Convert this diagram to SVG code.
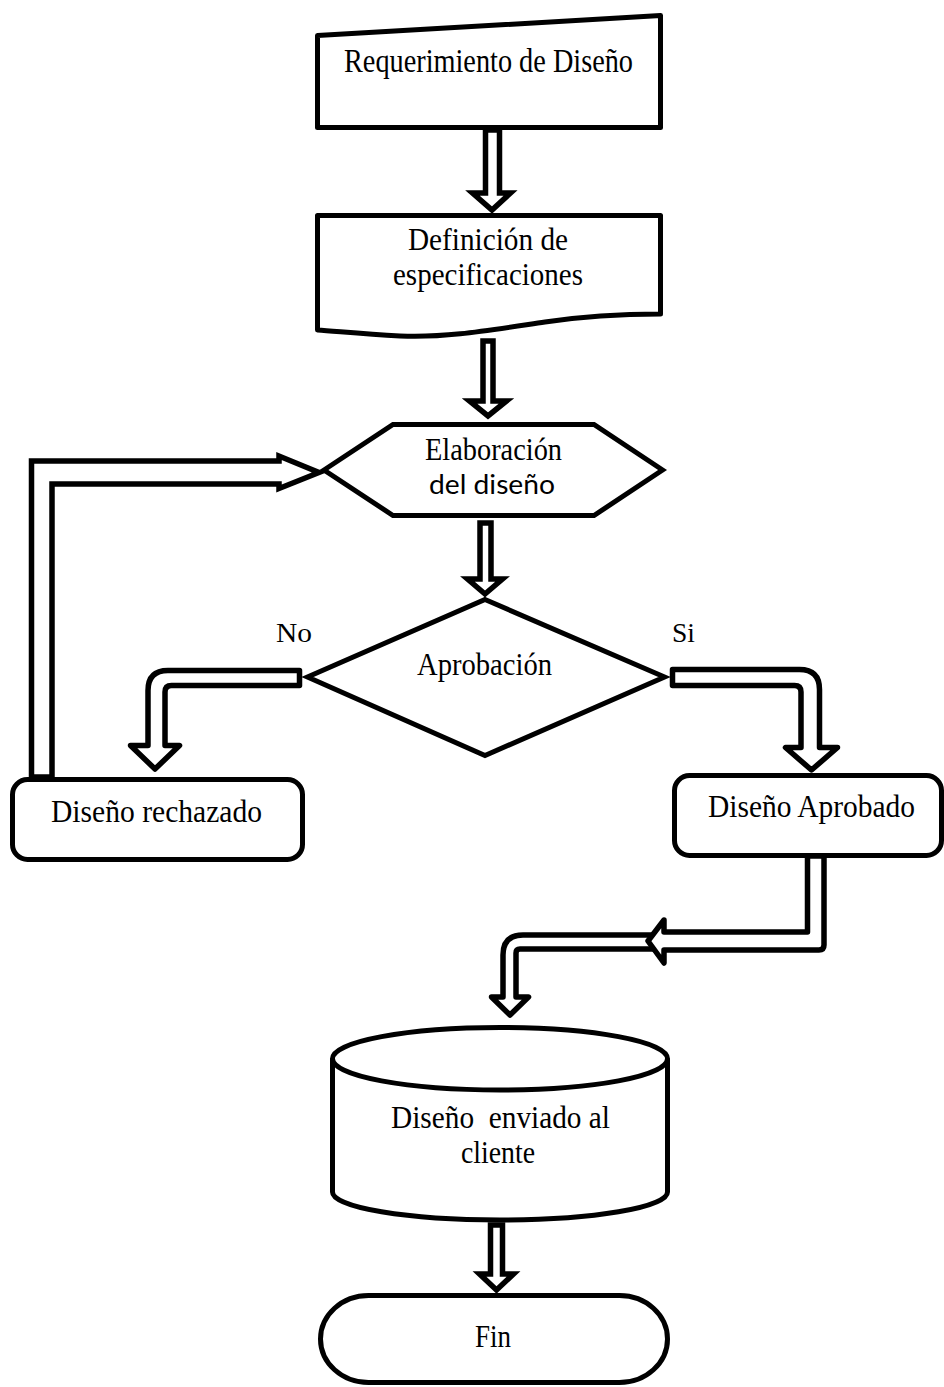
<svg xmlns="http://www.w3.org/2000/svg" width="944" height="1387" viewBox="0 0 944 1387">
<style>
.n{fill:#fff;stroke:#000;stroke-width:5;stroke-linejoin:round}
.m{fill:#fff;stroke:#000;stroke-width:5;stroke-linejoin:miter}
.a{fill:#fff;stroke:#000;stroke-width:5.5;stroke-linejoin:miter}
.r{fill:#fff;stroke:#000;stroke-width:5.5;stroke-linejoin:round}
.t{font-family:"Liberation Serif","Times New Roman",serif;font-size:32px;fill:#000;white-space:pre}
.big{font-size:34px}
.sm{font-size:27px}
.s{font-family:Lato,"Liberation Sans",sans-serif;font-size:27px;fill:#000}
</style>
<rect width="944" height="1387" fill="#fff"/>
<g id="n1">
<path class="n" d="M317.5,35.5 L660.5,15.5 L660.5,127.5 L317.5,127.5 Z"/>
<text class="t big" x="344" y="72" textLength="289" lengthAdjust="spacingAndGlyphs">Requerimiento de Diseño</text>
</g>
<g id="n2">
<path class="n" d="M317.5,215.5 H660.5 V314 C615,314 585,316 545,322 C485,331 445,338 400,336 C360,334 335,331 317.5,330 Z"/>
<text class="t" x="408" y="250" textLength="160" lengthAdjust="spacingAndGlyphs">Definición de</text>
<text class="t" x="393" y="285" textLength="190" lengthAdjust="spacingAndGlyphs">especificaciones</text>
</g>
<g id="n3">
<path class="m" d="M324,470 L393,424.5 L594,424.5 L662.5,470 L594,515.5 L393,515.5 Z"/>
<text class="t" x="425" y="460" textLength="137" lengthAdjust="spacingAndGlyphs">Elaboración</text>
<text class="s" x="429" y="494" textLength="126" lengthAdjust="spacingAndGlyphs">del diseño</text>
</g>
<g id="n4">
<path class="m" d="M485,599.5 L664.5,677 L485,755.5 L307.5,677 Z"/>
<text class="t" x="417" y="675" textLength="135" lengthAdjust="spacingAndGlyphs">Aprobación</text>
</g>
<g id="lbl-no"><text class="t sm" x="276" y="642" textLength="36" lengthAdjust="spacingAndGlyphs">No</text></g>
<g id="lbl-si"><text class="t sm" x="672" y="642" textLength="23" lengthAdjust="spacingAndGlyphs">Si</text></g>
<g id="n5">
<rect class="n" x="12.5" y="779.5" width="290" height="80" rx="15" ry="15"/>
<text class="t" x="51" y="822" textLength="211" lengthAdjust="spacingAndGlyphs">Diseño rechazado</text>
</g>
<g id="n6">
<rect class="n" x="674.5" y="775.5" width="267" height="80" rx="15" ry="15"/>
<text class="t" x="708" y="817" textLength="207" lengthAdjust="spacingAndGlyphs">Diseño Aprobado</text>
</g>
<g id="n7">
<path class="n" d="M332.5,1058.5 V1192 A167.5,28 0 0 0 667.5,1192 V1058.5"/>
<ellipse class="n" cx="500" cy="1058.75" rx="167.5" ry="31.25"/>
<text class="t" x="391" y="1128" textLength="219" lengthAdjust="spacingAndGlyphs">Diseño  enviado al</text>
<text class="t" x="461" y="1163" textLength="74" lengthAdjust="spacingAndGlyphs">cliente</text>
</g>
<g id="n8">
<rect class="n" x="320.5" y="1295.5" width="347" height="87" rx="48" ry="43.5"/>
<text class="t" x="475" y="1347" textLength="36" lengthAdjust="spacingAndGlyphs">Fin</text>
</g>
<g id="connectors">
<path class="a" d="M485.5,130 V193 H472.5 L492,210 L510.5,193 H499.5 V130 Z"/>
<path class="a" d="M483,341 V401 H469.5 L488,416 L506.5,401 H493 V341 Z"/>
<path class="a" d="M480,523 V579 H467.5 L485,594 L502.5,579 H491 V523 Z"/>
<path class="a" d="M31.5,777 V461 H279 V456 L319,472.5 L279,488.5 V484 H52 V777 Z"/>
<path class="r" d="M299.5,670.5 H168 Q148,670.5 148,690.5 V745.5 H130.5 L155,769 L179.5,745.5 H165 V692 Q165,685.5 171.5,685.5 H299.5 Z"/>
<path class="r" d="M672.5,669.5 H799.5 Q819.5,669.5 819.5,689.5 V747.5 H837.5 L811.5,770 L785.5,747.5 H801 V692 Q801,685.5 794.5,685.5 H672.5 Z"/>
<path class="r" d="M664,935 H523 Q503,935 503,955 V997 H491.5 L510,1015 L528.5,997 H516 V953 Q516,949 520,949 H664 Z"/>
<path class="r" d="M807.5,856 V932 H664 V920 L648,941 L664,963 V950 H819 Q824,950 824,945 V856 Z"/>
<path class="a" d="M490.5,1225 V1274 H479.5 L496.5,1290 L513.5,1274 H502.5 V1225 Z"/>
</g>
</svg>
